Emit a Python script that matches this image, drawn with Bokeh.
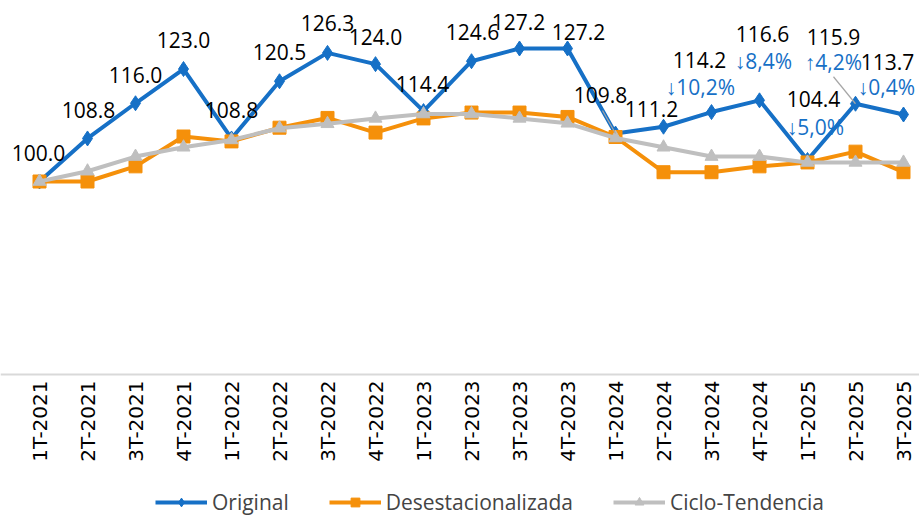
import math
from bokeh.plotting import figure
from bokeh.models import ColumnDataSource, Range1d, Legend, Span
from bokeh.core.properties import value
from bokeh.embed import file_html
from bokeh.resources import INLINE

quarters = ["1T-2021", "2T-2021", "3T-2021", "4T-2021", "1T-2022", "2T-2022", "3T-2022", "4T-2022",
            "1T-2023", "2T-2023", "3T-2023", "4T-2023", "1T-2024", "2T-2024", "3T-2024", "4T-2024",
            "1T-2025", "2T-2025", "3T-2025"]
original = [100.0, 108.8, 116.0, 123.0, 108.8, 120.5, 126.3, 124.0, 114.4, 124.6, 127.2, 127.2,
            109.8, 111.2, 114.2, 116.6, 104.4, 115.9, 113.7]
desestacionalizada = [100.0, 100.0, 103.1, 109.2, 108.2, 111.0, 113.0, 110.0, 112.9, 114.1, 114.1, 113.2,
                      109.1, 101.9, 101.9, 103.1, 103.9, 106.1, 101.9]
ciclo_tendencia = [100.0, 102.1, 105.1, 107.0, 108.5, 110.9, 111.8, 112.9, 113.8, 113.8, 112.9, 111.9,
                   108.9, 107.0, 105.1, 105.1, 103.9, 103.9, 103.9]
yoy_change = [-10.2, -8.4, -5.0, 4.2, -0.4]   # interanual, last five quarters

# label offsets in screen pixels (style, not data)
lab_dx = [-1, 1, 0, 0, 0, 0, 0, 0, -1, 1, -1, 11, -15, -12, -12, 3, 6, -22, -16]
lab_dy = [-29, -28, -28, -29, -28, -29, -30, -27, -27, -29, -26, -16, -39, -18, -52, -66, -61, -67, -53]
pct_dx = [-11, 4, 8, -22, -17]
pct_dy = [-25, -39, -33, -42, -28]

BLUE = "#1670C6"
ORANGE = "#F5900A"
GRAY = "#BFBFBF"

FW, FH = 919, 516
PPX, PPY = 48.0, 4.89
x0 = -39 / PPX
x1 = x0 + FW / PPX
y1 = 100 + 181 / PPY
y0 = y1 - FH / PPY
axis_val = y1 - 374 / PPY   # where the category axis line sits

p = figure(frame_width=FW, frame_height=FH, output_backend="svg", toolbar_location=None,
           x_range=Range1d(x0, x1), y_range=Range1d(y0, y1),
           min_border_left=0, min_border_right=0, min_border_top=0, min_border_bottom=0)
p.outline_line_color = None
p.xgrid.visible = False
p.ygrid.visible = False
p.xaxis.visible = False
p.yaxis.visible = False

xs = list(range(len(quarters)))

# category axis line and rotated category labels
p.add_layout(Span(location=axis_val, dimension="width", line_color="#D9D9D9", line_width=2))
p.text(x=xs, y=[axis_val] * len(xs), text=quarters, angle=math.pi / 2, y_offset=6,
       text_align="right", text_baseline="middle",
       text_font=value("DejaVu Sans"), text_font_size="20px", text_color="#000000")

src = ColumnDataSource(dict(x=xs, o=original, d=desestacionalizada, c=ciclo_tendencia,
                            lab=[f"{v:.1f}" for v in original], dx=lab_dx, dy=lab_dy))

r1 = p.line("x", "o", source=src, line_color=BLUE, line_width=4)
r1m = p.scatter("x", "o", source=src, marker="diamond", size=15, fill_color=BLUE, line_color=BLUE)
r2 = p.line("x", "d", source=src, line_color=ORANGE, line_width=4)
r2m = p.scatter("x", "d", source=src, marker="square", size=13, fill_color=ORANGE, line_color=ORANGE)
r3 = p.line("x", "c", source=src, line_color=GRAY, line_width=4)
r3m = p.scatter("x", "c", source=src, marker="triangle", size=13, fill_color=GRAY, line_color=GRAY)

# leader lines for two displaced labels
lead_idx = [12, 17]
lead_dx = [-13, -22]
lead_dy = [-23, -27]
p.segment(x0=[xs[i] + dx / PPX for i, dx in zip(lead_idx, lead_dx)],
          y0=[original[i] - dy / PPY for i, dy in zip(lead_idx, lead_dy)],
          x1=[xs[i] for i in lead_idx], y1=[original[i] for i in lead_idx],
          line_color="#A6A6A6", line_width=1.2)

p.text("x", "o", text="lab", source=src, x_offset="dx", y_offset="dy",
       text_font=value("Open Sans"), text_font_size="21px", text_color="#000000",
       text_align="center", text_baseline="middle")

n = len(yoy_change)
pct_src = ColumnDataSource(dict(
    x=xs[-n:], y=original[-n:],
    t=[("↑" if v > 0 else "↓") + f"{abs(v):.1f}".replace(".", ",") + "%" for v in yoy_change],
    dx=pct_dx, dy=pct_dy))
p.text("x", "y", text="t", source=pct_src, x_offset="dx", y_offset="dy",
       text_font=value("Open Sans"), text_font_size="21px", text_color=BLUE,
       text_align="center", text_baseline="middle")

legend = Legend(items=[("Original", [r1, r1m]), ("Desestacionalizada", [r2, r2m]),
                       ("Ciclo-Tendencia", [r3, r3m])],
                orientation="horizontal", location=(155, 0),
                label_text_font="Open Sans", label_text_font_size="21px",
                glyph_width=52, glyph_height=22, label_height=22, spacing=40, padding=0,
                margin=0, border_line_color=None, background_fill_alpha=0,
                label_standoff=5)
p.add_layout(legend, "center")

open("out.html", "w").write(file_html(p, INLINE))
